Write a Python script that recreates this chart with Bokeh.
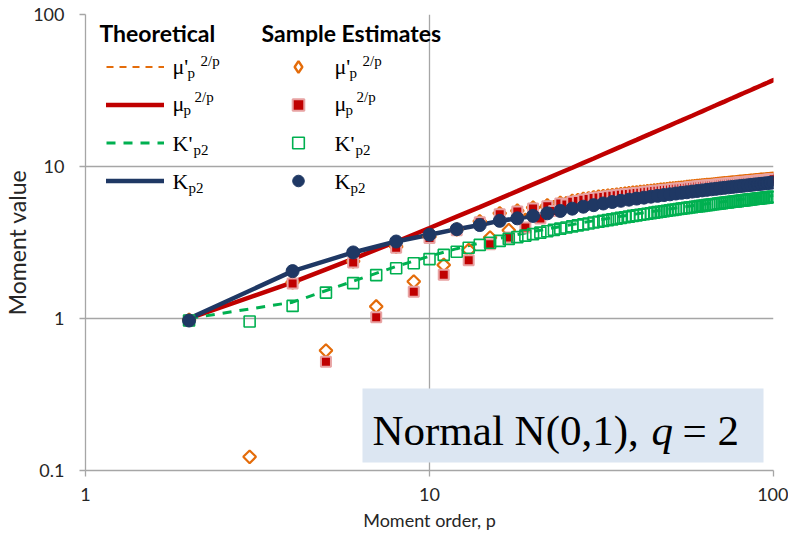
import numpy as np
from bokeh.plotting import figure
from bokeh.models import (Range1d, FixedTicker, CustomJSTickFormatter, Label, BoxAnnotation,
                          Legend, LegendItem, ColumnDataSource, Title)
from bokeh.embed import file_html
from bokeh.resources import INLINE

NaN = float("nan")

# ---------------- data ----------------
p_all = list(range(2, 101))
p_even = list(range(2, 101, 2))

# theoretical curves (even p)
mu_theory = [1.00, 1.73, 2.47, 3.20, 3.94, 4.68, 5.41, 6.15, 6.88, 7.62,
             8.35, 9.09, 9.82, 10.56, 11.29, 12.03, 12.77, 13.50, 14.24, 14.97,
             15.71, 16.44, 17.18, 17.92, 18.65, 19.39, 20.12, 20.86, 21.59, 22.33,
             23.06, 23.80, 24.54, 25.27, 26.01, 26.74, 27.48, 28.21, 28.95, 29.69,
             30.42, 31.16, 31.89, 32.63, 33.37, 34.10, 34.84, 35.57, 36.31, 37.05]
mu_raw_theory = list(mu_theory)
kp_theory = [1.00, 1.28, 1.76, 2.20, 2.57, 2.88, 3.14, 3.37, 3.57, 3.74,
             3.88, 4.02, 4.15, 4.28, 4.39, 4.50, 4.60, 4.70, 4.79, 4.88,
             4.96, 5.04, 5.12, 5.19, 5.26, 5.33, 5.39, 5.45, 5.51, 5.57,
             5.62, 5.68, 5.73, 5.78, 5.83, 5.88, 5.92, 5.97, 6.01, 6.06,
             6.10, 6.14, 6.18, 6.22, 6.26, 6.29, 6.33, 6.37, 6.40, 6.44]
k_theory = [1.00, 2.05, 2.72, 3.21, 3.56, 3.87, 4.12, 4.39, 4.56, 4.73,
            4.92, 5.10, 5.28, 5.44, 5.57, 5.71, 5.84, 5.95, 6.05, 6.15,
            6.24, 6.33, 6.41, 6.49, 6.56, 6.64, 6.71, 6.77, 6.84, 6.90,
            6.96, 7.02, 7.08, 7.13, 7.19, 7.24, 7.29, 7.34, 7.39, 7.43,
            7.48, 7.52, 7.57, 7.61, 7.65, 7.69, 7.73, 7.77, 7.81, 7.85]

# sample estimates (p = 2..100, K_p2 at even p)
mu_raw_sample = [0.98, 0.123, 1.73, 0.615, 2.38, 1.20, 2.97, 1.75, 3.45, 2.25,
                 3.86, 2.82, 4.36, 3.41, 4.92, 3.81, 5.12, 4.45, 5.37, 4.95,
                 5.54, 5.40, 5.77, 5.75, 5.94, 6.00, 6.12, 6.18,
                 6.27, 6.33, 6.38, 6.43, 6.48, 6.53, 6.58, 6.63, 6.67, 6.72,
                 6.76, 6.80, 6.84, 6.88, 6.92, 6.96, 7.00, 7.03, 7.07, 7.10,
                 7.14, 7.17, 7.21, 7.24, 7.27, 7.30, 7.33, 7.36, 7.39, 7.42,
                 7.45, 7.48, 7.50, 7.53, 7.56, 7.58, 7.61, 7.64, 7.66, 7.69,
                 7.71, 7.74, 7.76, 7.78, 7.81, 7.83, 7.85, 7.87, 7.90, 7.92,
                 7.94, 7.96, 7.98, 8.00, 8.02, 8.04, 8.06, 8.08, 8.10, 8.12,
                 8.14, 8.16, 8.18, 8.19, 8.21, 8.23, 8.25, 8.27, 8.28, 8.30,
                 8.32]
mu_sample = [0.97, NaN, 1.70, 0.52, 2.34, 1.02, 2.92, 1.50, 3.39, 1.94,
             3.80, 2.42, 4.30, 3.08, 4.85, 3.41, 5.05, 3.97, 5.30, 4.55,
             5.47, 5.10, 5.70, 5.62, 5.87, 5.92, 6.05, 6.12,
             6.20, 6.26, 6.31, 6.36, 6.41, 6.46, 6.51, 6.56, 6.60, 6.65,
             6.69, 6.73, 6.77, 6.81, 6.85, 6.89, 6.93, 6.96, 7.00, 7.03,
             7.07, 7.10, 7.14, 7.17, 7.20, 7.23, 7.26, 7.29, 7.32, 7.35,
             7.38, 7.41, 7.43, 7.46, 7.49, 7.51, 7.54, 7.57, 7.59, 7.62,
             7.64, 7.67, 7.69, 7.71, 7.74, 7.76, 7.78, 7.80, 7.83, 7.85,
             7.87, 7.89, 7.91, 7.93, 7.95, 7.97, 7.99, 8.01, 8.03, 8.05,
             8.07, 8.09, 8.11, 8.12, 8.14, 8.16, 8.18, 8.20, 8.21, 8.23,
             8.25]
kp_sample = [0.97, 0.955, 1.21, 1.48, 1.71, 1.93, 2.14, 2.31, 2.46, 2.62,
             2.75, 2.92, 3.05, 3.15, 3.24, 3.34, 3.43, 3.51,
             3.59, 3.67, 3.75, 3.83, 3.90, 3.97, 4.04, 4.10, 4.16, 4.22,
             4.28, 4.33, 4.39, 4.44, 4.49, 4.54, 4.59, 4.64, 4.68, 4.73,
             4.77, 4.81, 4.85, 4.89, 4.93, 4.97, 5.01, 5.04, 5.08, 5.11,
             5.15, 5.18, 5.21, 5.25, 5.28, 5.31, 5.34, 5.37, 5.40, 5.43,
             5.46, 5.49, 5.51, 5.54, 5.57, 5.59, 5.62, 5.65, 5.67, 5.70,
             5.72, 5.74, 5.77, 5.79, 5.81, 5.84, 5.86, 5.88, 5.90, 5.92,
             5.95, 5.97, 5.99, 6.01, 6.03, 6.05, 6.07, 6.09, 6.11, 6.13,
             6.15, 6.17, 6.18, 6.20, 6.22, 6.24, 6.26, 6.27, 6.29, 6.31,
             6.33]
k_sample = [0.97, 2.05, 2.72, 3.21, 3.56, 3.87, 4.12, 4.39, 4.56, 4.73,
            4.92, 5.10, 5.28, 5.44, 5.57, 5.71, 5.84, 5.95, 6.05, 6.15,
            6.24, 6.33, 6.41, 6.49, 6.56, 6.64, 6.71, 6.77, 6.84, 6.90,
            6.96, 7.02, 7.08, 7.13, 7.19, 7.24, 7.29, 7.34, 7.39, 7.43,
            7.48, 7.52, 7.57, 7.61, 7.65, 7.69, 7.73, 7.77, 7.81, 7.85]

x_ticks = [1, 10, 100]
y_ticks = [0.1, 1, 10, 100]

ORANGE = "#E46C0A"
RED = "#C00000"
GREEN = "#00B050"
NAVY = "#1F3864"
GRID = "#A6A6A6"
TXT = "#262626"

# ---------------- figure ----------------
p = figure(width=788, height=536, x_axis_type="log", y_axis_type="log",
           x_range=Range1d(1, 100), y_range=Range1d(0.1, 100),
           output_backend="svg", toolbar_location=None,
           min_border_left=84, min_border_right=15, min_border_top=14, min_border_bottom=66,
           background_fill_color="white", border_fill_color="white")
p.outline_line_color = None

fmt = CustomJSTickFormatter(code="return tick.toString();")
p.xaxis.ticker = FixedTicker(ticks=x_ticks, minor_ticks=[])
p.yaxis.ticker = FixedTicker(ticks=y_ticks, minor_ticks=[])
p.xgrid.ticker = FixedTicker(ticks=x_ticks, minor_ticks=[])
p.ygrid.ticker = FixedTicker(ticks=y_ticks, minor_ticks=[])
xax = p.xaxis[0]
yax = p.yaxis[0]
for ax in (xax, yax):
    ax.formatter = fmt
    ax.axis_line_color = GRID
    ax.axis_line_width = 1.3
    ax.major_tick_line_color = GRID
    ax.major_tick_line_width = 1.3
    ax.major_tick_out = 6
    ax.major_tick_in = 0
    ax.minor_tick_line_color = None
    ax.major_label_text_font = "Lato"
    ax.major_label_text_font_size = "18px"
    ax.major_label_text_color = TXT
    ax.axis_label_text_font = "Lato"
    ax.axis_label_text_font_size = "18px"
    ax.axis_label_text_font_style = "normal"
    ax.axis_label_text_color = TXT
xax.major_label_standoff = 11
yax.major_label_standoff = 15
xax.axis_label = "Moment order, p"
xax.axis_label_standoff = 5
for g in (p.xgrid, p.ygrid):
    g.grid_line_color = GRID
    g.grid_line_width = 1.3

# y-axis title as a side-panel title
p.add_layout(Title(text="Moment value", align="center", text_font="Lato", text_font_size="23px",
                   text_font_style="normal", text_color=TXT, offset=11, standoff=0), "left")

# ---------------- theoretical lines ----------------
src_th = ColumnDataSource(dict(p=p_even, mu_raw=mu_raw_theory, mu=mu_theory, kp=kp_theory, k=k_theory))
r_th_mu_raw = p.line("p", "mu_raw", source=src_th, line_color=ORANGE, line_width=2, line_dash="7 6")
r_th_mu = p.line("p", "mu", source=src_th, line_color=RED, line_width=4.5, line_cap="round")
r_th_kp = p.line("p", "kp", source=src_th, line_color=GREEN, line_width=3, line_dash="9 8")
r_th_k = p.line("p", "k", source=src_th, line_color=NAVY, line_width=4.5, line_cap="round")

# ---------------- sample estimates ----------------
src_all = ColumnDataSource(dict(p=p_all, mu_raw=np.array(mu_raw_sample), mu=np.array(mu_sample),
                                kp=np.array(kp_sample)))
src_k = ColumnDataSource(dict(p=p_even, k=k_sample))
r_s_mu_raw = p.scatter("p", "mu_raw", source=src_all, marker="square", angle=np.pi / 4, size=9,
                       fill_color=None, line_color=ORANGE, line_width=2.2)
r_s_mu = p.scatter("p", "mu", source=src_all, marker="square", size=10,
                   fill_color=RED, line_color="#E8A3A3", line_width=2)
r_s_kp = p.scatter("p", "kp", source=src_all, marker="square", size=11,
                   fill_color=None, line_color=GREEN, line_width=1.6)
r_s_k = p.scatter("p", "k", source=src_k, marker="circle", size=13,
                  fill_color=NAVY, line_color=NAVY, line_width=1)
# legend-only stand-in for the diamond key (same data, not drawn in the plot)
r_leg_diamond = p.scatter("p", "mu_raw", source=src_all, marker="diamond", size=12,
                          fill_color=None, line_color=ORANGE, line_width=2.4, visible=False)

# ---------------- legends ----------------
FX, FY = 86, 471   # page position of the frame's left and bottom edges


def legend_at(items, page_x, page_y_bottom, glyph_width):
    return Legend(items=[LegendItem(label=" ", renderers=[r]) for r in items],
                  location=(page_x - FX, FY - page_y_bottom), orientation="vertical",
                  glyph_width=glyph_width, glyph_height=29, label_height=29, label_width=1,
                  label_standoff=0, spacing=9, padding=0, margin=0,
                  label_text_font_size="8px", click_policy="none",
                  inactive_fill_alpha=0,
                  background_fill_alpha=0, border_line_alpha=0)


p.add_layout(legend_at([r_th_mu_raw, r_th_mu, r_th_kp, r_th_k], 107, 196, 58))
p.add_layout(legend_at([r_leg_diamond, r_s_mu, r_s_kp, r_s_k], 262, 196, 74))


def lab(text, x, base, size, font="Liberation Serif", style="normal", color="black"):
    y = base - 0.33 * size
    p.add_layout(Label(x=x - FX, y=FY - y, x_units="screen", y_units="screen", text=text,
                       text_font=font, text_font_size=f"{size}px", text_font_style=style,
                       text_color=color, text_baseline="alphabetic", text_align="left"))


lab("Theoretical", 100, 41, 23, font="Lato", style="bold")
lab("Sample Estimates", 262, 41, 23, font="Lato", style="bold")

for x0 in (173, 335):
    lab("\u03bc'", x0, 74, 22)
    lab("p", x0 + 15, 78, 15)
    lab("2/p", x0 + 28, 66, 15)
    lab("\u03bc", x0, 111, 22)
    lab("p", x0 + 11, 115, 15)
    lab("2/p", x0 + 22, 102, 15)
    lab("K'", x0, 151, 22)
    lab("p2", x0 + 21, 155, 15)
    lab("K", x0, 189, 22)
    lab("p2", x0 + 16, 193, 15)

# ---------------- annotation box ----------------
p.add_layout(BoxAnnotation(left=363 - FX, right=764 - FX, top=FY - 389, bottom=FY - 463,
                           left_units="screen", right_units="screen",
                           top_units="screen", bottom_units="screen",
                           fill_color="#DCE6F2", fill_alpha=1, line_color=None))
lab("Normal N(0,1),", 373, 445, 43)
lab("q", 652, 445, 43, style="italic")
lab("= 2", 683, 445, 43)

open("out.html", "w").write(file_html(p, INLINE))
